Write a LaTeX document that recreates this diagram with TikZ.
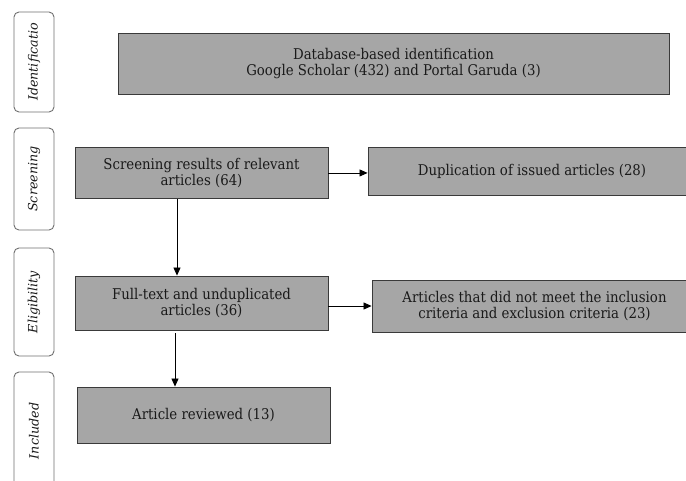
\documentclass[tikz,border=0pt]{standalone}
\usepackage{fontspec}
\setmainfont{DejaVu Serif}
\newfontfamily\condserif{DejaVu Serif Condensed}
\usetikzlibrary{arrows.meta}
\definecolor{boxfill}{HTML}{A6A6A6}
\definecolor{boxline}{HTML}{3A3A3A}
\definecolor{sideline}{HTML}{707070}
\definecolor{txt}{HTML}{1A1A1A}
\tikzset{
  box/.style={draw=boxline, fill=boxfill, line width=0.9pt, inner sep=2pt, align=center,
    font=\condserif\fontsize{14.8}{16.5}\selectfont, text=txt},
  side/.style={draw=sideline, rounded corners=5pt, line width=0.9pt, minimum height=40pt,
    font=\fontsize{12.7}{13}\selectfont\itshape, text=txt, rotate=90},
  arr/.style={draw=black, line width=0.8pt, -{Triangle[length=8pt,width=7pt]}}
}
\begin{document}
\begin{tikzpicture}[x=1pt,y=-1pt]
\useasboundingbox (0,0) rectangle (686,480);
\fill[white] (0,0) rectangle (686,480);
% side labels
\node[side, minimum width=100pt] (s1) at (34,62) {Identificatio};
\node[side, minimum width=102pt] (s2) at (34,179) {Screening};
\node[side, minimum width=108pt] (s3) at (34,302) {Eligibility};
\node[side, minimum width=118pt] (s4) at (34,431) {Included};
% boxes
\node[box, minimum width=551pt, minimum height=61pt] (id) at (393.5,63.5)
  {Database-based identification\\Google Scholar (432) and Portal Garuda (3)};
\node[box, minimum width=253pt, minimum height=51pt, anchor=north] (scr) at (201.5,147)
  {Screening results of relevant\\articles (64)};
\node[box, minimum width=328pt, minimum height=48pt] (dup) at (532,171)
  {Duplication of issued articles (28)};
\node[box, minimum width=253pt, minimum height=54pt] (ft) at (201.5,303)
  {Full-text and unduplicated\\articles (36)};
\node[box, minimum width=325pt, minimum height=52pt] (art) at (534.5,306)
  {Articles that did not meet the inclusion\\criteria and exclusion criteria (23)};
\node[box, minimum width=253pt, minimum height=56pt] (rev) at (203.5,415)
  {Article reviewed (13)};
% arrows
\draw[arr] (scr.east) -- (scr.east -| dup.west);
\draw[arr] (art.west -| ft.east) -- (art.west);
\draw[arr] ([xshift=-24.5pt]scr.south) -- ([xshift=-24.5pt]scr.south |- ft.north);
\draw[arr] ([xshift=-26.5pt,yshift=-3pt]ft.south) -- ([xshift=-26.5pt]ft.south |- rev.north);
\end{tikzpicture}
\end{document}
